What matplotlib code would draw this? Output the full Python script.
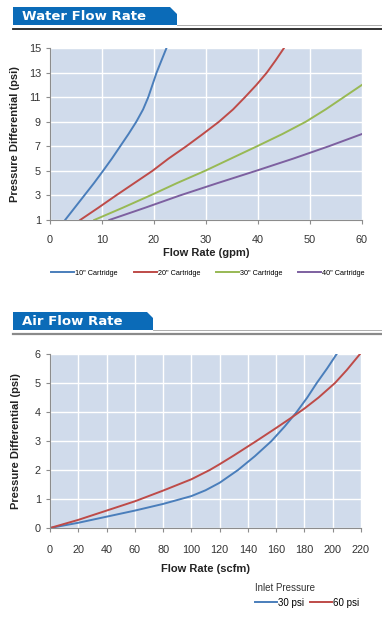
import matplotlib
matplotlib.use("Agg")
import matplotlib.pyplot as plt
from matplotlib.patches import Polygon
from matplotlib.lines import Line2D

plt.rcParams['font.family'] = ['Liberation Sans', 'DejaVu Sans']

# ---------------- data ----------------
water_x_ticks = [0, 10, 20, 30, 40, 50, 60]
water_y_ticks = [1, 3, 5, 7, 9, 11, 13, 15]
water_labels = ['10" Cartridge', '20" Cartridge', '30" Cartridge', '40" Cartridge']
w10_gpm = [2.9, 4.75, 6.6, 8.45, 10.2, 11.9, 13.5, 15.1, 16.6, 17.9, 18.9, 19.7, 20.5, 21.45, 22.4]
w10_psi = [1, 2, 3, 4, 5, 6, 7, 8, 9, 10, 11, 12, 13, 14, 15]
w20_gpm = [5.8, 9.3, 12.7, 16.2, 19.7, 22.8, 26.2, 29.4, 32.5, 35.2, 37.5, 39.7, 41.7, 43.4, 45.0]
w20_psi = [1, 2, 3, 4, 5, 6, 7, 8, 9, 10, 11, 12, 13, 14, 15]
w30_gpm = [8.5, 14.0, 19.3, 24.4, 29.8, 34.8, 39.8, 44.7, 49.2, 53.0, 56.5, 60.0]
w30_psi = [1, 2, 3, 4, 5, 6, 7, 8, 9, 10, 11, 12]
w40_gpm = [11.4, 18.3, 25.0, 32.2, 39.6, 46.8, 53.6, 60.0]
w40_psi = [1, 2, 3, 4, 5, 6, 7, 8]

air_x_ticks = list(range(0, 221, 20))
air_y_ticks = [0, 1, 2, 3, 4, 5, 6]
air_labels = ['30 psi', '60 psi']
a30_scfm = [0, 20, 40, 60, 80, 100, 110, 120, 133, 145, 156.7, 166, 174.5, 182, 188.7, 196, 202.8]
a30_psi = [0.0, 0.18, 0.39, 0.6, 0.83, 1.1, 1.3, 1.56, 2.0, 2.48, 3.0, 3.5, 4.0, 4.5, 5.0, 5.5, 6.0]
a60_scfm = [0, 20, 40, 60, 80, 100, 113, 120, 130, 146, 160, 170, 180, 190, 201.6, 210, 219.3]
a60_psi = [0.0, 0.28, 0.6, 0.92, 1.29, 1.68, 2.0, 2.2, 2.5, 3.0, 3.45, 3.78, 4.12, 4.5, 5.0, 5.45, 6.0]

# ---------------- style ----------------
W, H = 382, 620
BG = '#D0DBEB'
BLUE = '#4A7EBB'
RED = '#BE4B48'
GREEN = '#98B954'
PURPLE = '#7D60A0'
BANNER = '#0B6BB8'
TICKC = '#333333'
SPINE = '#8C8C8C'

fig = plt.figure(figsize=(W / 100, H / 100), dpi=100)


def fx(px):
    return px / W


def fy(py):
    return 1 - py / H


def banner(x0, x1, y0, y1, cut, text, line_y, line_color, line_w):
    poly = Polygon([(fx(x0), fy(y0)), (fx(x1 - cut), fy(y0)), (fx(x1), fy(y0 + cut)),
                    (fx(x1), fy(y1)), (fx(x0), fy(y1))], closed=True,
                   transform=fig.transFigure, facecolor=BANNER, edgecolor='none')
    fig.patches.append(poly)
    fig.add_artist(Line2D([fx(x1), 1], [fy(y1), fy(y1)], color='#A0A0A0', lw=0.6,
                          transform=fig.transFigure))
    fig.add_artist(Line2D([fx(x0), 1], [fy(line_y), fy(line_y)], color=line_color, lw=line_w,
                          transform=fig.transFigure))
    fig.text(fx(x0 + 9), fy((y0 + y1) / 2 + 0.5), text, color='white', fontsize=9.5,
             fontweight='bold', va='center', ha='left', family=['DejaVu Sans'])


def style_ax(ax):
    ax.set_facecolor(BG)
    for s in ['top', 'right']:
        ax.spines[s].set_visible(False)
    for s in ['left', 'bottom']:
        ax.spines[s].set_color(SPINE)
        ax.spines[s].set_linewidth(0.8)
    ax.grid(True, color='white', lw=1.0)
    ax.set_axisbelow(True)
    ax.tick_params(axis='both', colors=SPINE, labelcolor=TICKC, labelsize=7.8,
                   length=3, width=0.8, direction='out')


# ---------------- water chart ----------------
banner(13, 177, 7, 25, 7, 'Water Flow Rate', 29, '#222222', 1.3)
ax1 = fig.add_axes([fx(50), fy(220), fx(312), 172 / H])
style_ax(ax1)
lw = 1.4
ax1.plot(w10_gpm, w10_psi, color=BLUE, lw=lw, label=water_labels[0])
ax1.plot(w20_gpm, w20_psi, color=RED, lw=lw, label=water_labels[1])
ax1.plot(w30_gpm, w30_psi, color=GREEN, lw=lw, label=water_labels[2])
ax1.plot(w40_gpm, w40_psi, color=PURPLE, lw=lw, label=water_labels[3])
ax1.set_xlim(0, 60)
ax1.set_ylim(1, 15)
ax1.set_xticks(water_x_ticks)
ax1.set_yticks(water_y_ticks)
ax1.tick_params(axis='x', pad=8)
ax1.set_xlabel('Flow Rate (gpm)', fontsize=8, fontweight='bold', color='#222222', labelpad=2)
ax1.set_ylabel('Pressure Differential (psi)', fontsize=8, fontweight='bold', color='#222222',
               labelpad=6)
ax1.legend(loc='center', bbox_to_anchor=(fx(208), fy(273)), bbox_transform=fig.transFigure,
           ncol=4, frameon=False, fontsize=5.2, handlelength=3.2, handletextpad=0.1,
           columnspacing=2.2, borderpad=0)

# ---------------- air chart ----------------
banner(13, 153, 312, 330, 6, 'Air Flow Rate', 334, '#8A8A8A', 1.6)
ax2 = fig.add_axes([fx(50), fy(528), fx(311), 174 / H])
style_ax(ax2)
ax2.plot(a30_scfm, a30_psi, color=BLUE, lw=lw, label=air_labels[0])
ax2.plot(a60_scfm, a60_psi, color=RED, lw=lw, label=air_labels[1])
ax2.set_xlim(0, 220)
ax2.set_ylim(0, 6)
ax2.set_xticks(air_x_ticks)
ax2.set_yticks(air_y_ticks)
ax2.tick_params(axis='x', pad=9)
ax2.set_xlabel('Flow Rate (scfm)', fontsize=8, fontweight='bold', color='#222222', labelpad=7)
ax2.set_ylabel('Pressure Differential (psi)', fontsize=8, fontweight='bold', color='#222222',
               labelpad=10)
leg = ax2.legend(loc='upper left', bbox_to_anchor=(fx(250), fy(578)), bbox_transform=fig.transFigure,
                 ncol=2, frameon=False, fontsize=7, handlelength=2.3, handletextpad=0.1,
                 columnspacing=0.6, borderpad=0, title='Inlet Pressure', title_fontsize=7,
                 alignment='left')
leg.get_title().set_color('#333333')

fig.savefig('out.png', dpi=100)
